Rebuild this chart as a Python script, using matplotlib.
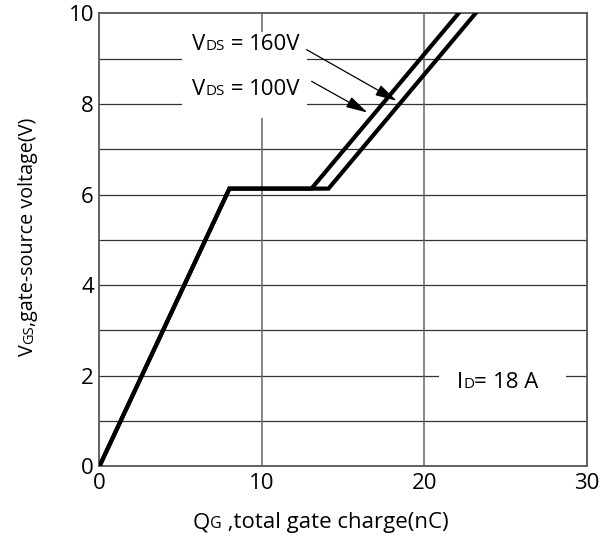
import matplotlib
matplotlib.use("Agg")
import matplotlib.pyplot as plt
from matplotlib.patches import Rectangle
from matplotlib import transforms
import numpy as np

plt.rcParams['font.family'] = ['Open Sans', 'DejaVu Sans']

# gate charge curves (Qg in nC, Vgs in V)
qg_100 = [0, 8, 13.05, 22.1]
vgs_100 = [0, 6.13, 6.13, 10]
qg_160 = [0, 8, 14.1, 23.15]
vgs_160 = [0, 6.13, 6.13, 10]

x_ticks = [0, 10, 20, 30]
y_ticks = [0, 2, 4, 6, 8, 10]
h_grid = [1, 2, 3, 4, 5, 6, 7, 8, 9]
v_grid = [10, 20]

fig = plt.figure(figsize=(6.03, 5.37), dpi=100)
ax = fig.add_axes([0.165, 0.132, 0.808, 0.843])
ax.set_xlim(0, 30)
ax.set_ylim(0, 10)

for y in h_grid:
    ax.axhline(y, color='#333333', lw=0.9, zorder=1)
for x in v_grid:
    ax.axvline(x, color='#666666', lw=1.1, zorder=1)

ax.plot(qg_100, vgs_100, color='black', lw=3, zorder=3, solid_joinstyle='miter')
ax.plot(qg_160, vgs_160, color='black', lw=3, zorder=3, solid_joinstyle='miter')

# white boxes behind the labels
ax.add_patch(Rectangle((5.05, 7.7), 7.75, 1.9, facecolor='white', edgecolor='none', zorder=2))
ax.add_patch(Rectangle((20.9, 1.35), 7.8, 1.3, facecolor='white', edgecolor='none', zorder=2))

ax.set_xticks(x_ticks)
ax.set_yticks(y_ticks)
ax.tick_params(length=0, labelsize=16)
ax.tick_params(axis='x', pad=5)
ax.tick_params(axis='y', pad=4)
for s in ax.spines.values():
    s.set_color('#555555')
    s.set_linewidth(1.3)


def pieces(x, y, parts, rotation=0, trans=None):
    # place text pieces one after another on a shared baseline
    trans = trans if trans is not None else ax.transData
    r = fig.canvas.get_renderer()
    off = 0.0
    ang = np.deg2rad(rotation)
    for txt, size in parts:
        t = fig.text(x, y, txt, fontsize=size, ha='left', va='baseline',
                     rotation=rotation, rotation_mode='anchor', zorder=5,
                     transform=transforms.offset_copy(trans, fig, x=off * np.cos(ang),
                                                      y=off * np.sin(ang), units='dots'))
        bb = t.get_window_extent(r)
        off += bb.width if rotation == 0 else bb.height


pieces(5.7, 9.2, [('V', 16), ('DS', 11), (' = ', 16), ('160V', 16)])
pieces(5.7, 8.2, [('V', 16), ('DS', 11), (' = ', 16), ('100V', 16)])
pieces(22.0, 1.72, [('I', 16), ('D', 11), ('= ', 16), ('18 A', 16)])

arrow = dict(arrowstyle='-|>,head_length=0.6,head_width=0.16', color='black', lw=0.9,
             mutation_scale=22, shrinkA=0, shrinkB=0)
ax.annotate('', xy=(18.3, 8.07), xytext=(12.75, 9.2), arrowprops=arrow, zorder=4)
ax.annotate('', xy=(16.5, 7.81), xytext=(13.06, 8.5), arrowprops=arrow, zorder=4)

# axis labels
pieces(193 / 603, 1 - 528 / 537, [('Q', 16), ('G', 11.5), (' ,total gate charge(nC)', 16)],
       trans=fig.transFigure)
pieces(33 / 603, 1 - 356 / 537, [('V', 14.2), ('GS', 10.5), (',gate-source voltage(V)', 14.2)],
       rotation=90, trans=fig.transFigure)

fig.savefig('out.png', dpi=100)
